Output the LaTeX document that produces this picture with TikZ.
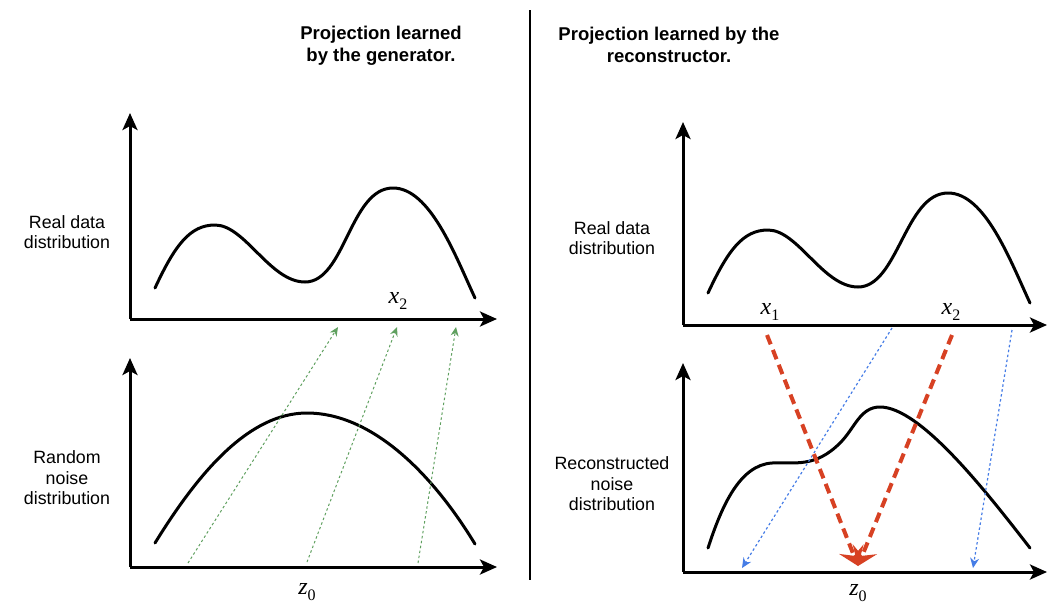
\documentclass[tikz,border=0pt]{standalone}
\usepackage{fontspec}
\setmainfont{Liberation Sans}
\newfontfamily\serifit{Liberation Serif}[ItalicFont=* Italic]
\usetikzlibrary{arrows.meta}
\definecolor{gr}{RGB}{95,160,95}
\definecolor{rd}{RGB}{215,65,35}
\definecolor{bl}{RGB}{70,125,230}
\newcommand{\mysub}[2]{{\serifit\itshape #1}\raisebox{-0.25em}{\serifit\fontsize{16}{16}\selectfont #2}}
\tikzset{
 axis/.style={line width=3pt, -{Stealth[length=17pt,width=15pt,inset=4pt]}},
 curve/.style={line width=3pt, line cap=round},
 lab/.style={align=center, font=\fontsize{17.8}{20.5}\selectfont, inner sep=0pt},
 ttl/.style={align=center, font=\bfseries\fontsize{18.5}{22}\selectfont, inner sep=0pt},
 mlab/.style={font=\fontsize{24}{26}\selectfont, inner sep=0pt},
 garr/.style={gr, line width=1pt, dash pattern=on 2.5pt off 2.5pt, -{Stealth[length=9pt,width=8pt]}},
 rarr/.style={rd, line width=4pt, dash pattern=on 10pt off 6pt, -{Stealth[length=18pt,width=26pt,inset=7pt]}},
 barr/.style={bl, line width=1.2pt, dash pattern=on 2.5pt off 2.5pt, -{Stealth[length=10pt,width=9pt]}},
}
\begin{document}
\begin{tikzpicture}[x=1pt,y=-1pt]
\useasboundingbox (0,0) rectangle (1048,606);
% titles
\node[ttl] (t1) at (381,46) {Projection learned\\by the generator.};
\node[ttl] (t2) at (669,45) {Projection learned by the\\reconstructor.};
\draw[line width=2.5pt] (530,10) -- (530,580);
% labels
\node[lab] (l1) at (67,232) {Real data\\distribution};
\node[lab] (l2) at (67,478) {Random\\noise\\distribution};
\node[lab] (r1) at (612,238) {Real data\\distribution};
\node[lab] (r2) at (612,484) {Reconstructed\\noise\\distribution};
% left axes
\coordinate (LTo) at (130,319);
\draw[axis] (LTo) -- (130,113);
\draw[axis] (LTo) -- (497,319);
\coordinate (LBo) at (130,567);
\draw[axis] (LBo) -- (130,358);
\draw[axis] (LBo) -- (497,567);
% right axes
\coordinate (RTo) at (683,325);
\draw[axis] (RTo) -- (683,122);
\draw[axis] (RTo) -- (1047,325);
\coordinate (RBo) at (683,572);
\draw[axis] (RBo) -- (683,363);
\draw[axis] (RBo) -- (1047,572);
% curves
\draw[curve] (155,288) .. controls (175,245) and (190,225) .. (215,225)
  .. controls (245,225) and (270,282) .. (305,282)
  .. controls (345,282) and (350,188) .. (393,188)
  .. controls (430,188) and (455,255) .. (475,298);
\draw[curve] (155,543) .. controls (200,470) and (250,413) .. (307,413)
  .. controls (370,413) and (430,470) .. (475,544);
\draw[curve] (708,293) .. controls (728,250) and (743,230) .. (768,230)
  .. controls (798,230) and (823,287) .. (858,287)
  .. controls (898,287) and (905,193) .. (948,193)
  .. controls (985,193) and (1010,260) .. (1030,303);
\draw[curve] (708,548) .. controls (722,505) and (740,465) .. (772,463)
  .. controls (795,462) and (815,468) .. (840,443)
  .. controls (855,428) and (860,407) .. (880,407)
  .. controls (920,407) and (985,490) .. (1030,548);
% math labels
\node[mlab] (lx2) at (398,301) {\mysub{x}{2}};
\node[mlab] (lz0) at (307,592) {\mysub{z}{0}};
\node[mlab] (rx1) at (770,312) {\mysub{x}{1}};
\node[mlab] (rx2) at (951,312) {\mysub{x}{2}};
\node[mlab] (rz0) at (858,593) {\mysub{z}{0}};
% green arrows
\coordinate (g1s) at (188,563); \coordinate (g1e) at (338,327);
\coordinate (g2s) at (307,562); \coordinate (g2e) at (397,327);
\coordinate (g3s) at (418,563); \coordinate (g3e) at (456,327);
\draw[garr] (g1s) -- (g1e);
\draw[garr] (g2s) -- (g2e);
\draw[garr] (g3s) -- (g3e);
% blue arrows
\coordinate (b1s) at (892,328); \coordinate (b1e) at (742,568);
\coordinate (b2s) at (1012,330); \coordinate (b2e) at (973,568);
\draw[barr] (b1s) -- (b1e);
\draw[barr] (b2s) -- (b2e);
% red arrows
\coordinate (r1s) at (767,335); \coordinate (r2s) at (952,335);
\coordinate (rz) at (858,566);
\draw[rarr] (r1s) -- (rz);
\draw[rarr] (r2s) -- (rz);
\end{tikzpicture}
\end{document}
